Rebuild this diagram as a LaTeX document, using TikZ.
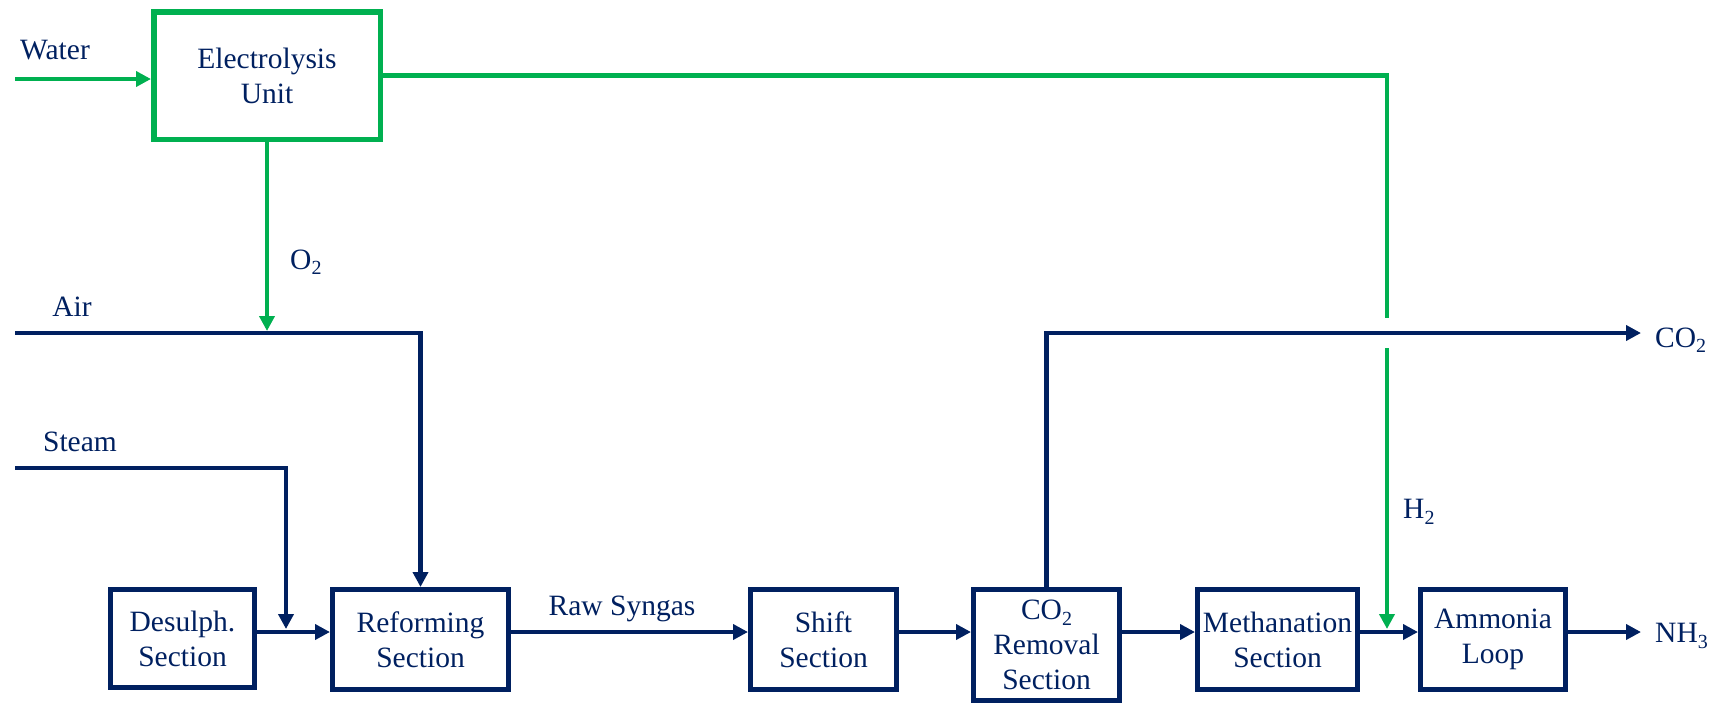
\documentclass[tikz,border=0pt]{standalone}
\usepackage{fontspec}
\setmainfont{Liberation Serif}
\usetikzlibrary{arrows.meta}
\definecolor{navy}{HTML}{002060}
\definecolor{grn}{HTML}{00B050}
\newcommand{\sbs}[1]{\raisebox{-0.4ex}{\fontsize{20}{20}\selectfont #1}}
\begin{document}
\begin{tikzpicture}[x=1pt,y=-1pt,
  font=\fontsize{29.5}{35}\selectfont, text=navy,
  box/.style={draw=navy, line width=5pt, align=center, inner sep=0pt},
  gbox/.style={draw=grn, line width=5.5pt, align=center, inner sep=0pt},
  nline/.style={draw=navy, line width=4.5pt},
  gline/.style={draw=grn, line width=4.5pt},
  tip/.style={-{Triangle[length=15pt,width=15pt]}},
  lbl/.style={inner sep=0pt}
]
\useasboundingbox (0,0) rectangle (1719,705);

% boxes
\node[gbox, minimum width=226.5pt, minimum height=127.5pt] (elec) at (267,75.5) {Electrolysis\\Unit};
\node[box, minimum width=144pt, minimum height=98pt] (desulph) at (182.5,638.5) {Desulph.\\Section};
\node[box, minimum width=176pt, minimum height=100pt] (reform) at (420.5,639.5) {Reforming\\Section};
\node[box, minimum width=146pt, minimum height=100pt] (shift) at (823.5,639.5) {Shift\\Section};
\node[box, minimum width=146pt, minimum height=111pt] (co2r) at (1046.5,645) {CO\sbs{2}\\Removal\\Section};
\node[box, minimum width=160pt, minimum height=100pt] (meth) at (1277.5,639.5) {Methanation\\Section};
\node[box, minimum width=145pt, minimum height=100pt] (amm) at (1493,639.5) {Ammonia\\Loop};

% coordinates
\coordinate (row) at (0,632);
\coordinate (waterin) at (15,79);
\coordinate (airin) at (15,333);
\coordinate (o2end) at (267,331);
\coordinate (steamin) at (15,468);
\coordinate (steamend) at (286,629);
\coordinate (h2turn) at (1387,75.5);
\coordinate (h2gapa) at (1387,318);
\coordinate (h2gapb) at (1387,348);
\coordinate (h2end) at (1387,629);
\coordinate (co2end) at (1641,333);
\coordinate (nh3end) at (1641,632);

% labels
\node[lbl] (lwater) at (55,50) {Water};
\node[lbl] (lair) at (72,307) {Air};
\node[lbl] (lsteam) at (80,442) {Steam};
\node[lbl, anchor=west] (lo2) at (290,262) {O\sbs{2}};
\node[lbl, anchor=west] (lh2) at (1403,512) {H\sbs{2}};
\node[lbl] (lraw) at (622,609) {Raw Syngas};
\node[lbl, anchor=west] (lco2) at (1655,340) {CO\sbs{2}};
\node[lbl, anchor=west] (lnh3) at (1655,636) {NH\sbs{3}};

% green connectors
\draw[gline, tip] (waterin) -- (waterin -| elec.west);
\draw[gline, tip] (elec.south) -- (o2end);
\draw[gline] (elec.east) -- (h2turn) -- (h2gapa);
\draw[gline, tip] (h2gapb) -- (h2end);

% navy connectors
\draw[nline, tip] (airin) -| (reform.north);
\draw[nline, tip] (steamin) -| (steamend);
\draw[nline, tip] (desulph.east |- row) -- (reform.west |- row);
\draw[nline, tip] (reform.east |- row) -- (shift.west |- row);
\draw[nline, tip] (shift.east |- row) -- (co2r.west |- row);
\draw[nline, tip] (co2r.east |- row) -- (meth.west |- row);
\draw[nline, tip] (meth.east |- row) -- (amm.west |- row);
\draw[nline, tip] (amm.east |- row) -- (nh3end);
\draw[nline, tip] (co2r.north) |- (co2end);
\end{tikzpicture}
\end{document}
